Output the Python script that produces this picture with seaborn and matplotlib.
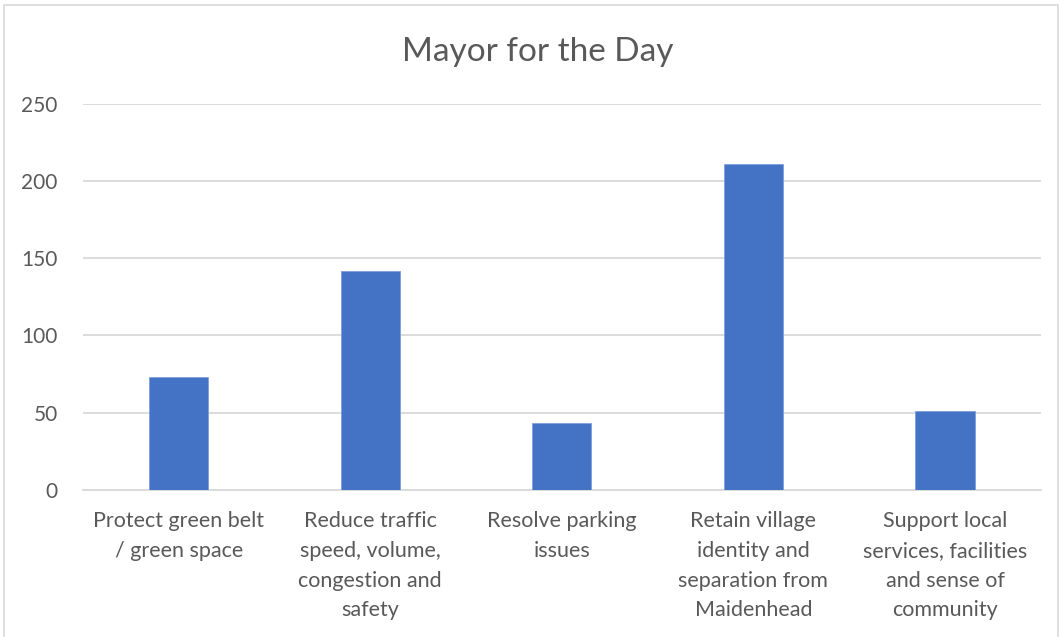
import matplotlib
matplotlib.use('Agg')
import matplotlib.pyplot as plt
import seaborn as sns
import pandas as pd
from matplotlib.patches import Rectangle

categories = ['Protect green belt\n/ green space',
              'Reduce traffic\nspeed, volume,\ncongestion and\nsafety',
              'Resolve parking\nissues',
              'Retain village\nidentity and\nseparation from\nMaidenhead',
              'Support local\nservices, facilities\nand sense of\ncommunity']
counts = [73, 142, 43, 211, 51]
yticks = [0, 50, 100, 150, 200, 250]

df = pd.DataFrame({'Priority': categories, 'Count': counts})

sns.set_style('white')
plt.rcParams['font.family'] = ['Lato', 'DejaVu Sans']
text_col = '#595959'
grid_col = '#D9D9D9'

f = plt.figure(figsize=(10.62, 6.37), dpi=100)
ax = f.add_axes([0.078, 0.231, 0.902, 0.606])

sns.barplot(x='Priority', y='Count', data=df, ax=ax, color='#4472C4',
            width=0.31, saturation=1, edgecolor='#7FA0D8', linewidth=0.6, zorder=3)

ax.set_ylim(0, 250)
ax.set_yticks(yticks)
ax.set_yticklabels([str(t) for t in yticks], fontsize=15, color=text_col)
ax.set_xticks(range(len(categories)))
ax.set_xticklabels(categories, fontsize=15.5, color=text_col, linespacing=1.62, va='top')
ax.tick_params(axis='both', length=0)
ax.tick_params(axis='x', pad=15)
ax.tick_params(axis='y', pad=18)
ax.grid(axis='y', color=grid_col, linewidth=1.3, zorder=0)
for s in ['top', 'right', 'left']:
    ax.spines[s].set_visible(False)
ax.spines['bottom'].set_color(grid_col)
ax.spines['bottom'].set_linewidth(1.3)
ax.set_xlabel('')
ax.set_ylabel('')
# title is centred on the whole chart, not the plot area
f.text(538 / 1062, 1 - 52 / 637, 'Mayor for the Day', fontsize=24, color=text_col,
       ha='center', va='center')

# chart border
f.patches.append(Rectangle((4 / 1062, -0.05), 1054 / 1062, 1 - 5 / 637 + 0.05,
                           transform=f.transFigure, fill=False,
                           edgecolor=grid_col, linewidth=1.2))

plt.savefig('out.png', dpi=100)
